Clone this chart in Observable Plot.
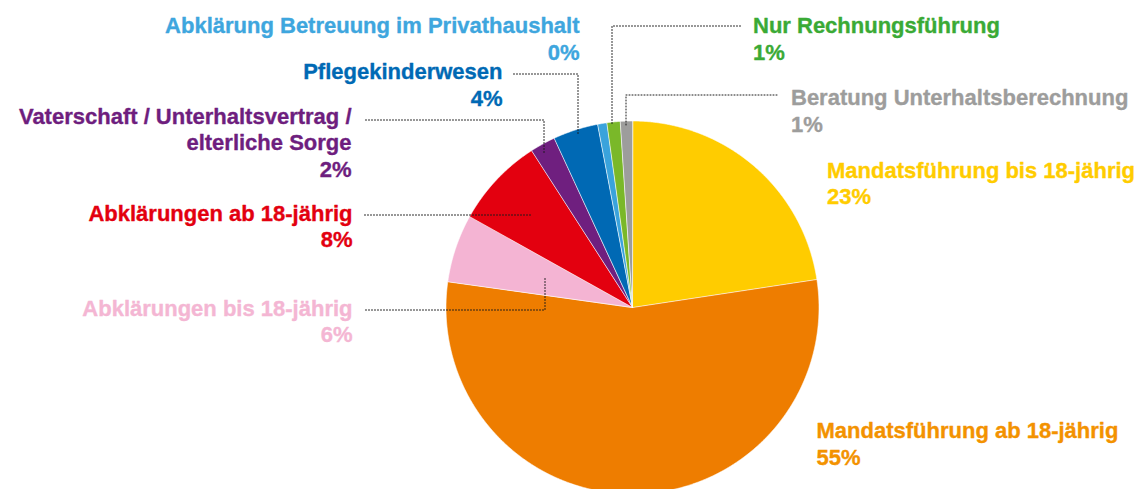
<!DOCTYPE html>
<html><head><meta charset="utf-8">
<script src="https://cdn.jsdelivr.net/npm/d3@7"></script>
<script src="https://cdn.jsdelivr.net/npm/@observablehq/plot@0.6"></script>
<style>html,body{margin:0;padding:0;background:#fff;overflow:hidden}</style>
</head><body><div id="chart"></div>
<script>
// ---- data (clockwise from 12 o'clock) ----
const categories = [
  "Mandatsführung bis 18-jährig",
  "Mandatsführung ab 18-jährig",
  "Abklärungen bis 18-jährig",
  "Abklärungen ab 18-jährig",
  "Vaterschaft / Unterhaltsvertrag /\nelterliche Sorge",
  "Pflegekinderwesen",
  "Abklärung Betreuung im Privathaushalt",
  "Nur Rechnungsführung",
  "Beratung Unterhaltsberechnung"
];
const shares = [22.6, 54.6, 5.9, 7.8, 2.2, 3.9, 0.8, 1.15, 1.05];
const percentLabels = ["23%", "55%", "6%", "8%", "2%", "4%", "0%", "1%", "1%"];

// ---- styles ----
const sliceColors = ["#FFCC00", "#EE7D00", "#F4B4D3", "#E3000F", "#6F1F7F", "#0069B4", "#3AA3DC", "#7AB829", "#9D9D9C"];
const labelColors = ["#FFCC00", "#F39200", "#F4B6D3", "#E3000F", "#6E1E7E", "#0069B4", "#3EA6DE", "#3AAA35", "#9D9D9C"];

// ---- layout (pixels) ----
const CX = 632, CY = 307, R = 186.5;
const labelLayout = [
  {x: 826.5, y: 203.5, anchor: "start"},
  {x: 816,   y: 464,   anchor: "start"},
  {x: 352,   y: 341.5, anchor: "end"},
  {x: 352,   y: 246.5, anchor: "end"},
  {x: 351,   y: 176,   anchor: "end"},
  {x: 502,   y: 105,   anchor: "end"},
  {x: 579,   y: 59.3,  anchor: "end"},
  {x: 752.5, y: 59,    anchor: "start"},
  {x: 790.5, y: 131,   anchor: "start"}
];
const leaderLayout = [
  null,
  null,
  [[365, 309.5], [544.5, 309.5], [544.5, 276]],
  [[364, 214.5], [530, 214.5]],
  [[365, 119.5], [543.5, 119.5], [543.5, 152]],
  [[513, 73.5], [577.5, 73.5], [577.5, 135]],
  null,
  [[740, 25.5], [611.5, 25.5], [611.5, 125]],
  [[776.5, 94.5], [625.5, 94.5], [625.5, 125]]
];

// ---- build wedges via d3.pie ----
const arcs = d3.pie().sort(null).startAngle(0).endAngle(2 * Math.PI)(shares);
const wedgePts = [];
arcs.forEach((a, i) => {
  wedgePts.push({k: i, x: CX, y: CY, fill: sliceColors[i]});
  const steps = Math.max(2, Math.ceil((a.endAngle - a.startAngle) / (Math.PI / 720)));
  for (let s = 0; s <= steps; ++s) {
    const t = a.startAngle + (a.endAngle - a.startAngle) * s / steps;
    wedgePts.push({k: i, x: CX + R * Math.sin(t), y: CY - R * Math.cos(t), fill: sliceColors[i]});
  }
});

const labels = categories.map((c, i) => ({
  text: c + "\n" + percentLabels[i],
  x: labelLayout[i].x, y: labelLayout[i].y, anchor: labelLayout[i].anchor, color: labelColors[i]
}));

const leaderPts = [];
leaderLayout.forEach((pts, i) => { if (pts) pts.forEach(([x, y]) => leaderPts.push({k: i, x, y})); });

const font = {fontFamily: "'Liberation Sans', Arial, sans-serif", fontWeight: "bold", fontSize: 22, lineHeight: 26.5 / 22, lineAnchor: "bottom", strokeWidth: 0.35};

const chart = Plot.plot({
  width: 1140, height: 489,
  margin: 0,
  x: {domain: [0, 1140], range: [0, 1140], axis: null},
  y: {domain: [0, 489], range: [0, 489], axis: null},
  marks: [
    Plot.line(wedgePts, {x: "x", y: "y", z: "k", fill: "fill", stroke: "#ffffff", strokeWidth: 0.6, curve: "linear-closed"}),
    Plot.line(leaderPts, {x: "x", y: "y", z: "k", stroke: "#1a1a1a", strokeWidth: 1, strokeDasharray: "1,2"}),
    Plot.text(labels.filter(d => d.anchor === "end"), {x: "x", y: "y", text: "text", fill: "color", stroke: "color", textAnchor: "end", ...font}),
    Plot.text(labels.filter(d => d.anchor === "start"), {x: "x", y: "y", text: "text", fill: "color", stroke: "color", textAnchor: "start", ...font})
  ]
});
document.getElementById("chart").appendChild(chart);
</script>
</body></html>
